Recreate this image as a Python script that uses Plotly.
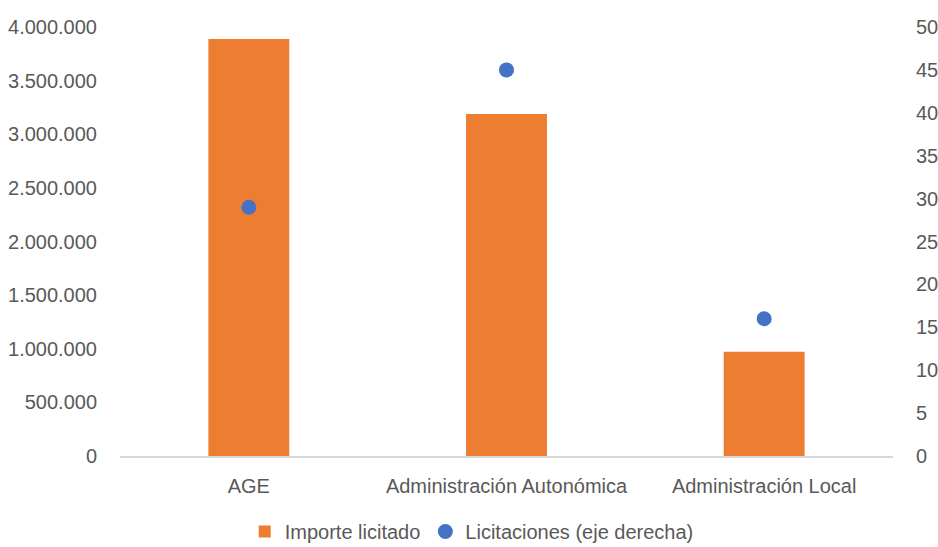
import plotly.graph_objects as go

categories = ["AGE", "Administración Autonómica", "Administración Local"]
importe = [3888000, 3189000, 972000]
licitaciones = [29, 45, 16]
left_ticks = [0, 500000, 1000000, 1500000, 2000000, 2500000, 3000000, 3500000, 4000000]
left_labels = ["0", "500.000", "1.000.000", "1.500.000", "2.000.000", "2.500.000",
               "3.000.000", "3.500.000", "4.000.000"]
right_ticks = [0, 5, 10, 15, 20, 25, 30, 35, 40, 45, 50]

FONT = "Liberation Sans, Arial, sans-serif"
GRAY = "#595959"

fig = go.Figure()
fig.add_trace(go.Bar(
    x=categories, y=importe, name="Importe licitado",
    marker=dict(color="#ED7D31", line=dict(width=0)),
    width=0.314, yaxis="y",
))
fig.add_trace(go.Scatter(
    x=categories, y=licitaciones, name="Licitaciones (eje derecha)",
    mode="markers", marker=dict(color="#4472C4", size=15),
    yaxis="y2",
))

fig.update_layout(
    width=938, height=547,
    margin=dict(l=120, r=45, t=27, b=91, autoexpand=False),
    paper_bgcolor="white", plot_bgcolor="white",
    font=dict(family=FONT, size=20, color=GRAY),
    showlegend=True,
    legend=dict(orientation="h", x=0.455, xanchor="center", y=-0.176, yanchor="middle",
                font=dict(size=20, color=GRAY), traceorder="normal", itemwidth=30),
    xaxis=dict(showgrid=False, showline=True, linecolor="#D9D9D9", linewidth=2,
               ticks="", tickfont=dict(size=20, color=GRAY), ticklabelstandoff=11,
               zeroline=False, automargin=False),
    yaxis=dict(range=[0, 4000000], tickvals=left_ticks, ticktext=left_labels,
               showgrid=False, showline=False, zeroline=False, automargin=False,
               tickfont=dict(size=20, color=GRAY), ticklabelstandoff=22),
    yaxis2=dict(range=[0, 50], tickvals=right_ticks, overlaying="y", side="right",
                showgrid=False, showline=False, zeroline=False, automargin=False,
                tickfont=dict(size=20, color=GRAY), ticklabelstandoff=22),
)

fig.write_html(
    "out.html",
    config={"displayModeBar": False},
    post_script="document.body.style.margin='0';document.body.style.overflow='hidden';",
)
